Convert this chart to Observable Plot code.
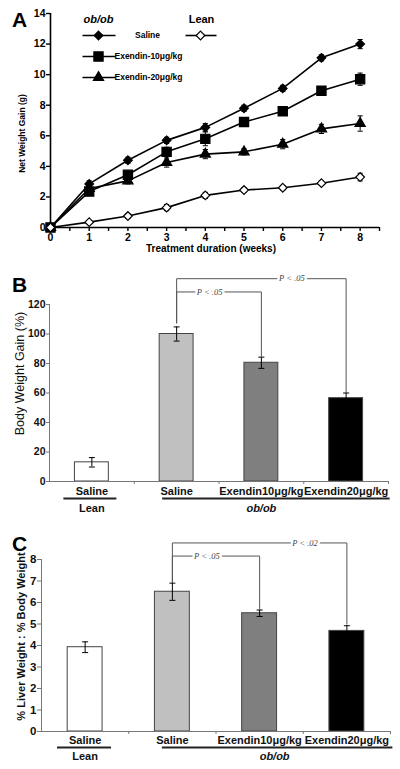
<!DOCTYPE html>
<html>
<head>
<meta charset="utf-8">
<script src="https://cdn.jsdelivr.net/npm/d3@7"></script>
<script src="https://cdn.jsdelivr.net/npm/@observablehq/plot@0.6"></script>
<style>
html,body{margin:0;padding:0;background:#fff;}
#root{position:relative;width:400px;height:769px;overflow:hidden;background:#fff;font-family:"Liberation Sans",Arial,sans-serif;}
.panel{position:absolute;left:0;}
.letter{position:absolute;left:12px;font-weight:bold;font-size:21px;line-height:21px;color:#000;}
</style>
</head>
<body>
<div id="root"></div>
<script>
// ---------------- Data ----------------
// Panel A: net weight gain (g) per treatment week
const weeks = [0, 1, 2, 3, 4, 5, 6, 7, 8];
const obSalineGain   = [0, 2.85, 4.4, 5.7, 6.55, 7.8, 9.1, 11.1, 12.0];
const obSalineErr    = [0, 0.2, 0.2, 0.2, 0.25, 0.2, 0.2, 0.2, 0.3];
const exendin10Gain  = [0, 2.35, 3.45, 4.95, 5.8, 6.9, 7.6, 8.95, 9.7];
const exendin10Err   = [0, 0.2, 0.2, 0.3, 0.45, 0.2, 0.2, 0.2, 0.4];
const exendin20Gain  = [0, 2.55, 3.05, 4.25, 4.8, 4.95, 5.45, 6.45, 6.8];
const exendin20Err   = [0, 0.2, 0.2, 0.3, 0.3, 0.2, 0.3, 0.3, 0.5];
const leanSalineGain = [0, 0.35, 0.75, 1.3, 2.1, 2.45, 2.6, 2.9, 3.3];
const leanSalineErr  = [0, 0.1, 0.15, 0.2, 0.2, 0.15, 0.15, 0.15, 0.25];
const lineSeries = ["Saline", "Exendin-10μg/kg", "Exendin-20μg/kg", "Lean Saline"];
const legendHeaders = ["ob/ob", "Lean"];
const weekTicks = [0, 1, 2, 3, 4, 5, 6, 7, 8];
const gainTicks = [0, 2, 4, 6, 8, 10, 12, 14];

// Panels B and C: bar groups
const barCategories = ["Saline", "Saline", "Exendin10μg/kg", "Exendin20μg/kg"];
const barGroups = ["Lean", "ob/ob", "ob/ob", "ob/ob"];
const bodyWeightGain    = [13, 100, 80.5, 56.5];
const bodyWeightGainErr = [3.2, 4.8, 3.8, 3.5];
const bodyGainTicks = [0, 20, 40, 60, 80, 100, 120];
const comparisonsB = [[1, 2, "P < .05"], [1, 3, "P < .05"]];
const liverRatio    = [3.92, 6.5, 5.5, 4.68];
const liverRatioErr = [0.25, 0.4, 0.15, 0.24];
const liverTicks = [0, 1, 2, 3, 4, 5, 6, 7, 8];
const comparisonsC = [[1, 2, "P < .05"], [1, 3, "P < .02"]];

// ---------------- Helpers ----------------
const FONT = '"Liberation Sans", Arial, Helvetica, sans-serif';
const root = document.getElementById("root");
function place(el, top) { el.classList.add("panel"); el.style.top = top + "px"; root.appendChild(el); }
function letter(ch, top) { const d = document.createElement("div"); d.className = "letter"; d.textContent = ch; d.style.top = top + "px"; root.appendChild(d); }
function scaler(L, xDom, yDom) {
  const fw = L.width - L.ml - L.mr, fh = L.height - L.mt - L.mb;
  return {
    x: px => xDom[0] + (px - L.ml) / fw * (xDom[1] - xDom[0]),
    y: py => yDom[0] + (L.height - L.mb - py) / fh * (yDom[1] - yDom[0]),
    dx: p => p / fw * (xDom[1] - xDom[0]),
    dy: p => p / fh * (yDom[1] - yDom[0])
  };
}

// ---------------- Panel A ----------------
(function () {
  const L = {width: 400, height: 258, ml: 50, mr: 21, mt: 13, mb: 31};
  const xDom = [0, 8.5], yDom = [0, 14];
  const S = scaler(L, xDom, yDom);
  const gains = [obSalineGain, exendin10Gain, exendin20Gain, leanSalineGain];
  const errs = [obSalineErr, exendin10Err, exendin20Err, leanSalineErr];
  const rows = lineSeries.flatMap((name, s) => weeks.map((w, i) => ({series: name, week: w, gain: gains[s][i], err: errs[s][i]})));
  const errRows = rows.filter(d => d.err > 0);
  const caps = errRows.flatMap(d => [{week: d.week, v: d.gain + d.err}, {week: d.week, v: d.gain - d.err}]);
  const symStyle = {
    [lineSeries[0]]: {symbol: "diamond2", r: 3.9, fill: "black"},
    [lineSeries[1]]: {symbol: "square", r: 5.2, fill: "black"},
    [lineSeries[2]]: {symbol: "triangle", r: 3.8, fill: "black"},
    [lineSeries[3]]: {symbol: "diamond2", r: 3.9, fill: "white"}
  };
  const cap = S.dx(2.6);
  const rowY = [35, 56, 77];
  const legendItems = lineSeries.slice(0, 3).map((name, k) => ({name, y: S.y(rowY[k]), l0: S.x(82), l1: S.x(115), m: S.x(98)}));
  legendItems.push({name: lineSeries[3], y: S.y(35), l0: S.x(185), l1: S.x(216), m: S.x(200)});
  const bold = {fontWeight: "bold", fill: "black"};
  const marks = [
    Plot.ruleY([0], {stroke: "black", strokeWidth: 1.6}),
    Plot.ruleX([0], {stroke: "black", strokeWidth: 1.6}),
    Plot.axisY({ticks: gainTicks, tickSize: 4, tickPadding: 1, fontSize: 10.5, fontWeight: "bold", strokeWidth: 1.4, label: null}),
    Plot.axisX({ticks: d3.range(0, 8.51, 0.5), tickSize: 4, tickPadding: 2, fontSize: 10.5, fontWeight: "bold", strokeWidth: 1.4,
      tickFormat: d => weekTicks.includes(d) ? String(d) : "", label: null}),
    Plot.ruleX(errRows, {x: "week", y1: d => d.gain - d.err, y2: d => d.gain + d.err, stroke: "black", strokeWidth: 1}),
    Plot.link(caps, {x1: d => d.week - cap, x2: d => d.week + cap, y1: "v", y2: "v", stroke: "black", strokeWidth: 1}),
    Plot.line(rows, {x: "week", y: "gain", z: "series", stroke: "black", strokeWidth: 1.6}),
    ...lineSeries.map(name => Plot.dot(rows.filter(d => d.series === name), {x: "week", y: "gain", ...symStyle[name], stroke: "black", strokeWidth: 1.2})),
    // legend
    Plot.link(legendItems, {x1: "l0", x2: "l1", y1: "y", y2: "y", stroke: "black", strokeWidth: 1.6}),
    ...legendItems.map(d => Plot.dot([d], {x: "m", y: "y", ...symStyle[d.name], stroke: "black", strokeWidth: 1.2})),
    Plot.text([legendHeaders[0]], {x: S.x(98), y: S.y(19), text: d => d, fontStyle: "italic", fontSize: 11, ...bold}),
    Plot.text([legendHeaders[1]], {x: S.x(201), y: S.y(19), text: d => d, fontSize: 11, ...bold}),
    Plot.text([lineSeries[0]], {x: S.x(147), y: S.y(35), text: d => d, fontSize: 8.5, ...bold}),
    Plot.text(lineSeries.slice(1, 3), {x: S.x(114), y: (d, i) => S.y(rowY[i + 1]), text: d => d, textAnchor: "start", fontSize: 8.5, ...bold}),
    // axis titles
    Plot.text(["Treatment duration (weeks)"], {frameAnchor: "bottom", textAnchor: "middle", lineAnchor: "middle", dy: 21, dx: -4, text: d => d, fontSize: 10, ...bold}),
    Plot.text(["Net Weight Gain (g)"], {frameAnchor: "left", textAnchor: "middle", lineAnchor: "middle", rotate: -90, dx: -28, dy: 13, text: d => d, fontSize: 8.5, ...bold})
  ];
  const svg = Plot.plot({
    width: L.width, height: L.height, marginLeft: L.ml, marginRight: L.mr, marginTop: L.mt, marginBottom: L.mb,
    x: {domain: xDom}, y: {domain: yDom},
    style: {fontFamily: FONT, background: "white", color: "black", overflow: "visible"},
    marks
  });
  place(svg, 0);
})();

// ---------------- Panels B & C ----------------
function barPanel(cfg) {
  const L = cfg.L;
  const xDom = [-0.5, 3.5];
  const S = scaler(L, xDom, cfg.yDom);
  const bars = barCategories.map((c, i) => ({i, cat: c, group: barGroups[i], v: cfg.values[i], e: cfg.errs[i]}));
  const half = 0.2;
  const cap = S.dx(3);
  const capsData = bars.flatMap(d => [{i: d.i, v: d.v + d.e}, {i: d.i, v: d.v - d.e}]);
  const groups = d3.groups(bars, d => d.group).map(([name, arr]) => ({name, from: arr[0].i, to: arr[arr.length - 1].i}));
  const brackets = cfg.comps.map(([a, b, label], k) => {
    const lvl = cfg.levels[k];
    const y0 = bars[a].v + bars[a].e + S.dy(cfg.leftGap);
    const y1 = bars[b].v + bars[b].e + S.dy(cfg.rightGap);
    return {k, label, pts: [{x: a, y: y0}, {x: a, y: lvl}, {x: b, y: lvl}, {x: b, y: y1}], tx: a + (b - a) * cfg.textFrac[k], ty: lvl};
  });
  const bracketPts = brackets.flatMap(b => b.pts.map(p => ({...p, k: b.k})));
  const marks = [
    Plot.rect(bars, {x1: d => d.i - half, x2: d => d.i + half, y1: () => 0, y2: "v", fill: d => cfg.fills[d.i], stroke: "#444", strokeWidth: 1}),
    Plot.ruleX(bars, {x: "i", y1: d => d.v - d.e, y2: d => d.v + d.e, stroke: "black", strokeWidth: 1}),
    Plot.link(capsData, {x1: d => d.i - cap, x2: d => d.i + cap, y1: "v", y2: "v", stroke: "black", strokeWidth: 1}),
    Plot.ruleY([0], {stroke: "#777", strokeWidth: 1}),
    Plot.ruleX([-0.5], {stroke: "#777", strokeWidth: 1}),
    Plot.axisY({ticks: cfg.ticks, tickSize: cfg.tickSize, tickPadding: 1, fontSize: cfg.tickFont, fontWeight: "bold", stroke: "#777", fill: "#111", label: null}),
    Plot.axisX({ticks: [0.5, 1.5, 2.5, 3.5], tickSize: 3, tickFormat: () => "", stroke: "#777", label: null}),
    Plot.axisX({ticks: [0, 1, 2, 3], tickSize: 0, tickPadding: cfg.catPad, tickFormat: i => barCategories[i], fontSize: 11, fontWeight: "bold", fill: "#111", label: null}),
    Plot.line(bracketPts, {x: "x", y: "y", z: "k", stroke: "#555", strokeWidth: 1}),
    Plot.text(brackets, {x: "tx", y: "ty", text: "label", fill: "#444", stroke: "white", strokeWidth: 5,
      fontFamily: '"Liberation Serif", "Times New Roman", serif', fontStyle: "italic", fontSize: 8.5}),
    ...groups.map((g, k) => Plot.ruleY([g], {y: () => 0, x1: d => d.from + S.dx(cfg.groupPad[k][0]), x2: d => d.to + S.dx(cfg.groupPad[k][1]),
      dy: cfg.underlineDy, stroke: "#222", strokeWidth: 2.2})),
    ...groups.map((g, k) => Plot.text([g], {x: d => (d.from + d.to) / 2 + S.dx(cfg.groupShift[k]), y: () => 0, text: "name", dy: cfg.groupDy,
      fontSize: 11, fontWeight: "bold", fontStyle: k === 1 ? "italic" : "normal", fill: "#111"})),
    Plot.text([cfg.yLabel], {frameAnchor: "left", textAnchor: "middle", lineAnchor: "middle", rotate: -90, dx: cfg.yLabelDx, dy: cfg.yLabelDy,
      text: d => d, fontSize: cfg.yLabelSize, fontWeight: cfg.yLabelWeight, fill: "#111"})
  ];
  const svg = Plot.plot({
    width: L.width, height: L.height, marginLeft: L.ml, marginRight: L.mr, marginTop: L.mt, marginBottom: L.mb,
    x: {domain: xDom}, y: {domain: cfg.yDom},
    style: {fontFamily: FONT, background: "white", color: "black", overflow: "visible"},
    marks
  });
  place(svg, cfg.top);
}

const barFills = ["white", "#c0c0c0", "#7f7f7f", "#000000"];

barPanel({
  top: 262, L: {width: 400, height: 258, ml: 49, mr: 12, mt: 42, mb: 39},
  yDom: [0, 120], ticks: bodyGainTicks, values: bodyWeightGain, errs: bodyWeightGainErr, comps: comparisonsB,
  levels: [128.5, 137.5], textFrac: [0.39, 0.68], leftGap: 4, rightGap: 0, fills: barFills,
  tickSize: 3, tickFont: 10.5, catPad: 6, underlineDy: 17, groupDy: 26.5, groupPad: [[-28, 25], [-14, 44]], groupShift: [0, 0],
  yLabel: "Body Weight Gain (%)", yLabelDx: -30, yLabelDy: -19.5, yLabelSize: 12.5, yLabelWeight: "normal"
});

barPanel({
  top: 520, L: {width: 400, height: 249, ml: 41, mr: 10, mt: 39, mb: 38},
  yDom: [0, 8], ticks: liverTicks, values: liverRatio, errs: liverRatioErr, comps: comparisonsC,
  levels: [8.16, 8.77], textFrac: [0.395, 0.76], leftGap: 1, rightGap: 1.5, fills: barFills,
  tickSize: 4, tickFont: 11.5, catPad: 5, underlineDy: 16, groupDy: 24.5, groupPad: [[-27.6, 26.4], [-10, 46]], groupShift: [0, 15],
  yLabel: "% Liver Weight : % Body Weight", yLabelDx: -20, yLabelDy: -9, yLabelSize: 11, yLabelWeight: "bold"
});

letter("A", 9);
letter("B", 274);
letter("C", 533);
</script>
</body>
</html>
